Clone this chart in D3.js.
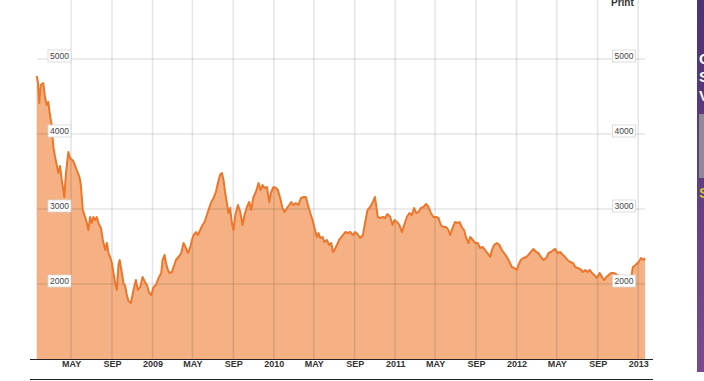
<!DOCTYPE html>
<html>
<head>
<meta charset="utf-8">
<script src="https://cdn.jsdelivr.net/npm/d3@7"></script>
<style>
html,body{margin:0;padding:0;background:#fff;}
svg{display:block;}
</style>
</head>
<body>
<svg id="chart" width="704" height="381"></svg>
<script>
// Index level (decimal-year date, index value)
const yearFrac = [
2008.048,2008.058,2008.069,2008.081,2008.102,2008.116,2008.130,2008.143,2008.157,2008.171,
2008.185,2008.199,2008.213,2008.226,2008.240,2008.254,2008.267,2008.275,2008.289,2008.308,
2008.322,2008.349,2008.377,2008.399,2008.410,2008.427,2008.446,2008.460,2008.473,2008.487,
2008.501,2008.514,2008.528,2008.542,2008.555,2008.575,2008.592,2008.611,2008.625,2008.638,
2008.652,2008.666,2008.679,2008.693,2008.707,2008.720,2008.730,2008.748,2008.761,2008.775,
2008.789,2008.802,2008.822,2008.844,2008.863,2008.880,2008.899,2008.918,2008.934,2008.954,
2008.973,2008.990,2009.008,2009.028,2009.050,2009.072,2009.083,2009.099,2009.111,2009.127,
2009.140,2009.160,2009.173,2009.193,2009.214,2009.237,2009.256,2009.275,2009.292,2009.311,
2009.325,2009.338,2009.358,2009.374,2009.393,2009.412,2009.429,2009.448,2009.467,2009.484,
2009.503,2009.523,2009.539,2009.556,2009.572,2009.585,2009.599,2009.613,2009.626,2009.640,
2009.654,2009.668,2009.682,2009.704,2009.723,2009.742,2009.758,2009.778,2009.797,2009.813,
2009.832,2009.852,2009.874,2009.890,2009.907,2009.923,2009.943,2009.962,2009.978,2009.997,
2010.017,2010.033,2010.052,2010.071,2010.088,2010.108,2010.126,2010.143,2010.162,2010.182,
2010.203,2010.223,2010.244,2010.264,2010.281,2010.300,2010.319,2010.335,2010.355,2010.368,
2010.382,2010.401,2010.417,2010.437,2010.456,2010.473,2010.487,2010.500,2010.520,2010.538,
2010.569,2010.588,2010.607,2010.629,2010.651,2010.670,2010.689,2010.711,2010.734,2010.753,
2010.772,2010.794,2010.816,2010.833,2010.843,2010.857,2010.876,2010.899,2010.917,2010.936,
2010.959,2010.978,2010.994,2011.014,2011.035,2011.055,2011.074,2011.096,2011.118,2011.137,
2011.156,2011.173,2011.192,2011.212,2011.233,2011.255,2011.274,2011.294,2011.315,2011.338,
2011.357,2011.376,2011.398,2011.420,2011.439,2011.453,2011.472,2011.494,2011.513,2011.530,
2011.549,2011.568,2011.585,2011.604,2011.618,2011.640,2011.659,2011.680,2011.700,2011.722,
2011.741,2011.760,2011.783,2011.797,2011.815,2011.838,2011.859,2011.879,2011.898,2011.920,
2011.942,2011.961,2011.980,2012.003,2012.016,2012.035,2012.057,2012.079,2012.098,2012.118,
2012.139,2012.162,2012.180,2012.200,2012.222,2012.244,2012.263,2012.283,2012.304,2012.318,
2012.337,2012.359,2012.381,2012.400,2012.419,2012.442,2012.464,2012.483,2012.502,2012.524,
2012.546,2012.565,2012.584,2012.601,2012.620,2012.639,2012.662,2012.683,2012.703,2012.722,
2012.738,2012.757,2012.777,2012.798,2012.829,2012.862,2012.895,2012.924,2012.944,2012.957,
2012.977,2013.004,2013.024,2013.046,2013.056
];
const indexValues = [
4773,4693,4413,4653,4680,4493,4387,4427,4253,4120,
3827,3693,3587,3480,3573,3387,3253,3160,3493,3760,
3680,3640,3520,3427,3333,2987,2893,2813,2720,2893,
2813,2893,2853,2893,2813,2747,2587,2453,2547,2413,
2360,2280,2147,2013,1920,2253,2320,2147,2013,1973,
1853,1773,1747,1920,2053,1920,1960,2093,2040,1987,
1880,1853,1960,1987,2080,2147,2320,2387,2280,2187,
2147,2160,2227,2320,2360,2413,2547,2480,2413,2493,
2587,2653,2693,2653,2720,2787,2827,2920,3013,3093,
3147,3227,3347,3453,3480,3387,3213,3080,2947,3013,
2813,2720,2920,3053,2960,2787,2920,3027,3093,2987,
3160,3227,3347,3253,3320,3280,3293,3093,3227,3293,
3280,3253,3147,3013,2960,3013,3053,3093,3053,3080,
3053,3147,3160,3160,3053,2947,2853,2747,2627,2680,
2613,2627,2560,2587,2520,2547,2427,2453,2520,2587,
2653,2693,2680,2693,2653,2693,2667,2613,2653,2827,
2987,3027,3093,3160,3053,2893,2880,2893,2880,2933,
2893,2787,2853,2827,2787,2693,2787,2893,2947,2920,
3013,2947,2960,3013,3027,3067,3027,2947,2893,2893,
2880,2787,2760,2760,2720,2653,2747,2827,2813,2827,
2760,2720,2613,2547,2627,2587,2547,2547,2480,2493,
2453,2413,2360,2453,2520,2547,2520,2453,2413,2360,
2293,2227,2213,2187,2253,2320,2347,2360,2387,2427,
2467,2427,2413,2360,2320,2347,2413,2427,2453,2467,
2413,2427,2387,2360,2320,2293,2280,2227,2213,2200,
2160,2187,2160,2187,2147,2120,2080,2147,2093,2053,
2093,2120,2147,2147,2120,2093,2053,2027,2107,2227,
2253,2293,2347,2320,2347
];
const xTickDates = ["2008-05-01","2008-09-01","2009-01-01","2009-05-01","2009-09-01","2010-01-01","2010-05-01","2010-09-01","2011-01-01","2011-05-01","2011-09-01","2012-01-01","2012-05-01","2012-09-01","2013-01-01"];
const xTickLabels = ["MAY","SEP","2009","MAY","SEP","2010","MAY","SEP","2011","MAY","SEP","2012","MAY","SEP","2013"];
const yTicks = [2000,3000,4000,5000];
const yTickLabels = ["2000","3000","4000","5000"];

function toDate(t){
  const y = Math.floor(t);
  const s = Date.UTC(y,0,1), e = Date.UTC(y+1,0,1);
  return new Date(s + (t - y) * (e - s));
}
const data = yearFrac.map((t,i)=>({date:toDate(t), value:indexValues[i]}));

const svg = d3.select("#chart");
const x = d3.scaleUtc().domain([new Date(Date.UTC(2008,0,18)), new Date(Date.UTC(2013,0,20))]).range([36.5, 644.5]);
const y = d3.scaleLinear().domain([1000, 5800]).range([359, -1]);

// area + line
const area = d3.area().x(d=>x(d.date)).y0(y(1000)).y1(d=>y(d.value)).curve(d3.curveLinear);
const line = d3.line().x(d=>x(d.date)).y(d=>y(d.value)).curve(d3.curveLinear);
svg.append("path").datum(data).attr("d", area).attr("fill", "#f5b183");

// grid
const grid = svg.append("g");
grid.selectAll("line.v").data(xTickDates).enter().append("line")
  .attr("x1", d=>x(new Date(d+"T00:00:00Z"))).attr("x2", d=>x(new Date(d+"T00:00:00Z")))
  .attr("y1", 0).attr("y2", 359)
  .attr("stroke", "#000").attr("stroke-opacity", 0.1).attr("stroke-width", 1.6);
grid.selectAll("line.h").data(yTicks).enter().append("line")
  .attr("x1", 37).attr("x2", 645)
  .attr("y1", d=>y(d)).attr("y2", d=>y(d))
  .attr("stroke", "#000").attr("stroke-opacity", 0.1).attr("stroke-width", 1.4);

svg.append("path").datum(data).attr("d", line).attr("fill", "none")
  .attr("stroke", "#ec772c").attr("stroke-width", 2).attr("stroke-linejoin", "round");

// y labels (both sides)
[59.5, 624].forEach(cx=>{
  const g = svg.append("g");
  yTicks.forEach((v,i)=>{
    const yy = y(v);
    g.append("rect").attr("x", cx-11.5).attr("y", yy-9).attr("width", 23).attr("height", 12)
      .attr("fill", "#fff").attr("stroke", "#d4d4d4").attr("stroke-width", 0.8);
    g.append("text").attr("x", cx).attr("y", yy).attr("text-anchor", "middle")
      .attr("font-family", "Arial, 'Liberation Sans', sans-serif").attr("font-size", 8.5)
      .attr("fill", "#444").text(yTickLabels[i]);
  });
});

// x axis lines
svg.append("line").attr("x1", 30).attr("x2", 653).attr("y1", 359.5).attr("y2", 359.5).attr("stroke", "#222").attr("stroke-width", 1);
svg.append("line").attr("x1", 30).attr("x2", 653).attr("y1", 379.5).attr("y2", 379.5).attr("stroke", "#222").attr("stroke-width", 1);

const xAxis = d3.axisBottom(x).tickValues(xTickDates.map(d=>new Date(d+"T00:00:00Z")))
  .tickFormat((d,i)=>xTickLabels[i]).tickSize(0).tickPadding(0);
const ax = svg.append("g").attr("transform", "translate(0,361)").call(xAxis);
ax.select(".domain").remove();
ax.selectAll("text").attr("font-family", "Arial, 'Liberation Sans', sans-serif")
  .attr("font-size", 9).attr("font-weight", "bold").attr("fill", "#333").attr("dy", "0.71em");

// "Print" link
svg.append("text").attr("x", 611).attr("y", 5.5).attr("font-family", "Arial, 'Liberation Sans', sans-serif")
  .attr("font-size", 10).attr("font-weight", "bold").attr("fill", "#333").text("Print");

// cropped side panel
const defs = svg.append("defs");
const grad = defs.append("linearGradient").attr("id", "pg").attr("x1", 0).attr("y1", 0).attr("x2", 0).attr("y2", 1);
grad.append("stop").attr("offset", "0%").attr("stop-color", "#4b3373");
grad.append("stop").attr("offset", "100%").attr("stop-color", "#7a4a8e");
defs.append("clipPath").attr("id", "pc").append("rect").attr("x", 697).attr("y", 0).attr("width", 7).attr("height", 372);
const panel = svg.append("g").attr("clip-path", "url(#pc)");
panel.append("rect").attr("x", 697).attr("y", 0).attr("width", 7).attr("height", 372).attr("fill", "url(#pg)");
[["G",64],["S",82],["V",101]].forEach(([c,yy])=>{
  panel.append("text").attr("x", 699).attr("y", yy).attr("font-family", "Arial, sans-serif")
    .attr("font-size", 15).attr("font-weight", "bold").attr("fill", "#fff").text(c);
});
panel.append("rect").attr("x", 699).attr("y", 114).attr("width", 6).attr("height", 64).attr("fill", "#8f8a96");
panel.append("text").attr("x", 699).attr("y", 198).attr("font-family", "Arial, sans-serif")
  .attr("font-size", 15).attr("font-weight", "bold").attr("fill", "#c7c832").text("S");
</script>
</body>
</html>
